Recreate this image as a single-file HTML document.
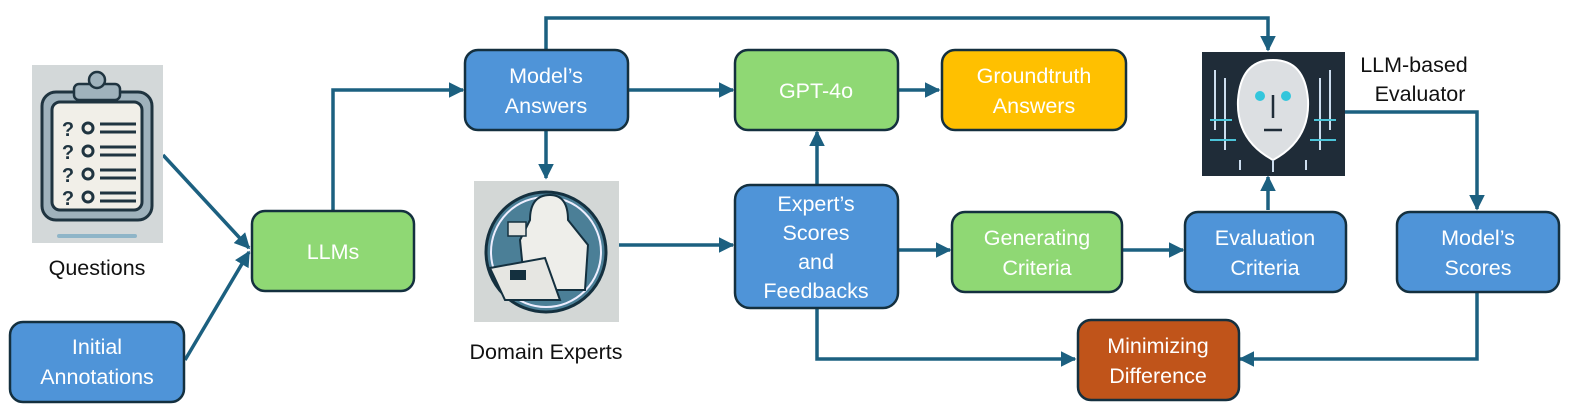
<!DOCTYPE html>
<html><head><meta charset="utf-8"><style>
html,body{margin:0;padding:0;background:#fff;width:1578px;height:418px;overflow:hidden}
svg{display:block}
text{font-family:"Liberation Sans",sans-serif;font-size:21.5px;fill:#fff;text-anchor:middle}
.k{fill:#111}
.b{fill:#4f94d8}.g{fill:#8fd874}.y{fill:#ffc000}.o{fill:#c0541a}
rect.n{stroke:#14303f;stroke-width:2.5}
.l{stroke:#1c6080;stroke-width:3.5;fill:none}
</style></head><body>
<svg width="1578" height="418" viewBox="0 0 1578 418">
<defs><marker id="a" viewBox="0 0 10 10" refX="9" refY="5" markerWidth="4.5" markerHeight="4.5" orient="auto"><path d="M0,0L10,5L0,10z" fill="#1c6080"/></marker></defs>
<path class="l" d="M546,50V18H1268V50" marker-end="url(#a)"/>
<path class="l" d="M333,210V90H463" marker-end="url(#a)"/>
<path class="l" d="M628,90H733" marker-end="url(#a)"/>
<path class="l" d="M898,90H939" marker-end="url(#a)"/>
<path class="l" d="M546,130V178" marker-end="url(#a)"/>
<path class="l" d="M619,245H733" marker-end="url(#a)"/>
<path class="l" d="M817,185V132" marker-end="url(#a)"/>
<path class="l" d="M898,250H950" marker-end="url(#a)"/>
<path class="l" d="M1122,250H1183" marker-end="url(#a)"/>
<path class="l" d="M1268,210V177" marker-end="url(#a)"/>
<path class="l" d="M1345,112H1477V209" marker-end="url(#a)"/>
<path class="l" d="M1477,292V359H1240" marker-end="url(#a)"/>
<path class="l" d="M817,308V359H1075" marker-end="url(#a)"/>
<path class="l" d="M163,155L249,248" marker-end="url(#a)"/>
<path class="l" d="M185,360L249,252" marker-end="url(#a)"/>
<rect class="n b" x="465" y="50" width="163" height="80" rx="13"/>
<text x="546" y="83">Model’s</text><text x="546" y="113">Answers</text>
<rect class="n g" x="735" y="50" width="163" height="80" rx="13"/>
<text x="816" y="98">GPT-4o</text>
<rect class="n y" x="942" y="50" width="184" height="80" rx="13"/>
<text x="1034" y="83">Groundtruth</text><text x="1034" y="113">Answers</text>
<rect class="n g" x="252" y="211" width="162" height="80" rx="13"/>
<text x="333" y="259">LLMs</text>
<rect class="n b" x="10" y="322" width="174" height="80" rx="13"/>
<text x="97" y="354">Initial</text><text x="97" y="384">Annotations</text>
<rect class="n b" x="735" y="185" width="163" height="123" rx="15"/>
<text x="816" y="211">Expert’s</text><text x="816" y="240">Scores</text><text x="816" y="269">and</text><text x="816" y="298">Feedbacks</text>
<rect class="n g" x="952" y="212" width="170" height="80" rx="13"/>
<text x="1037" y="245">Generating</text><text x="1037" y="275">Criteria</text>
<rect class="n b" x="1185" y="212" width="161" height="80" rx="13"/>
<text x="1265" y="245">Evaluation</text><text x="1265" y="275">Criteria</text>
<rect class="n b" x="1397" y="212" width="162" height="80" rx="13"/>
<text x="1478" y="245">Model’s</text><text x="1478" y="275">Scores</text>
<rect class="n o" x="1078" y="320" width="161" height="80" rx="13"/>
<text x="1158" y="353">Minimizing</text><text x="1158" y="383">Difference</text>
<rect x="32" y="65" width="131" height="178" fill="#d3d8d9"/>
<rect x="42" y="92" width="110" height="128" rx="14" fill="#9fb2bc" stroke="#1f3440" stroke-width="3"/>
<rect x="52" y="102" width="90" height="108" rx="8" fill="#f1efe8" stroke="#1f3440" stroke-width="3"/>
<rect x="74" y="84" width="46" height="16" rx="5" fill="#9fb2bc" stroke="#1f3440" stroke-width="2.5"/>
<circle cx="97" cy="80" r="8" fill="#9fb2bc" stroke="#1f3440" stroke-width="2.5"/>
<g fill="none" stroke="#1f3440" stroke-width="3">
<circle cx="88" cy="128" r="5"/><circle cx="88" cy="151" r="5"/><circle cx="88" cy="174" r="5"/><circle cx="88" cy="197" r="5"/>
<path d="M100,124H136M100,132H136M100,147H136M100,155H136M100,170H136M100,178H136M100,193H136M100,201H136"/>
</g>
<g font-weight="bold"><text x="68" y="136" style="fill:#1f3440;font-size:20px">?</text><text x="68" y="159" style="fill:#1f3440;font-size:20px">?</text><text x="68" y="182" style="fill:#1f3440;font-size:20px">?</text><text x="68" y="205" style="fill:#1f3440;font-size:20px">?</text></g>
<rect x="57" y="234" width="80" height="4" rx="2" fill="#8fb5c8"/>
<text class="k" x="97" y="275">Questions</text>
<rect x="474" y="181" width="145" height="141" fill="#d3d7d6"/>
<circle cx="546" cy="252" r="60" fill="#4b7f97" stroke="#14303f" stroke-width="3"/>
<circle cx="546" cy="252" r="55" fill="none" stroke="#eef" stroke-width="2"/>
<path d="M530,220Q530,195 550,195Q568,195 568,220L588,245L585,290L525,290L520,240Z" fill="#eeeeea" stroke="#14303f" stroke-width="2"/>
<path d="M490,268L545,258L560,300L505,300Z" fill="#e6e6e2" stroke="#14303f" stroke-width="2"/>
<rect x="510" y="270" width="16" height="10" fill="#14303f"/>
<rect x="508" y="222" width="18" height="14" fill="#e4e4e0" stroke="#14303f" stroke-width="1.5"/>
<text class="k" x="546" y="359">Domain Experts</text>
<rect x="1202" y="52" width="143" height="124" fill="#1f2c38"/>
<path d="M1273,60Q1305,60 1308,100Q1310,140 1273,160Q1236,140 1238,100Q1241,60 1273,60Z" fill="#dcdfe2" stroke="#fff" stroke-width="2"/>
<circle cx="1260" cy="96" r="5" fill="#33c6dc"/><circle cx="1286" cy="96" r="5" fill="#33c6dc"/>
<path d="M1273,95V118M1264,130H1282" stroke="#1f2c38" stroke-width="2.5" fill="none"/>
<g stroke="#cde" stroke-width="2" fill="none"><path d="M1215,70V130M1225,78V150M1330,70V130M1320,78V150M1240,160V170M1273,160V172M1306,160V170"/></g>
<g stroke="#4cc4d8" stroke-width="2" fill="none"><path d="M1210,140H1236M1310,140H1336M1210,120H1232M1314,120H1336"/></g>
<text class="k" x="1414" y="72">LLM-based</text>
<text class="k" x="1420" y="101">Evaluator</text>
</svg>
</body></html>
